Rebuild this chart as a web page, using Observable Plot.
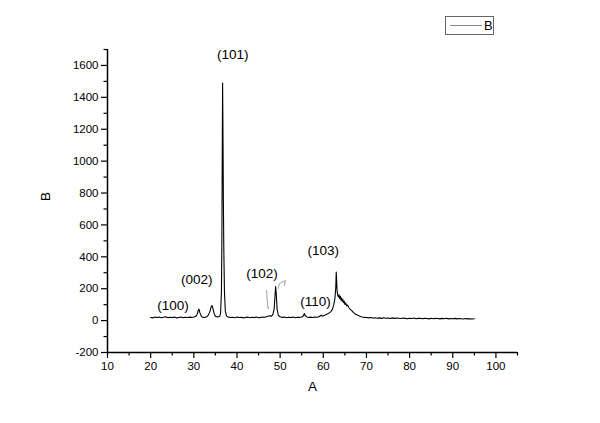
<!DOCTYPE html>
<html>
<head>
<meta charset="utf-8">
<script src="https://cdn.jsdelivr.net/npm/d3@7"></script>
<script src="https://cdn.jsdelivr.net/npm/@observablehq/plot@0.6"></script>
<style>
  html, body { margin: 0; padding: 0; background: #fff; }
  #wrap { position: relative; width: 600px; height: 423px; font-family: "Liberation Sans", Arial, sans-serif; }
  #legend { position: absolute; left: 445px; top: 16px; width: 47px; height: 17px; border: 1px solid #666; background: #fff; }
  #legend .ln { position: absolute; left: 4px; top: 8px; width: 32px; height: 0; border-top: 1px solid #888; }
  #legend .lb { position: absolute; left: 38px; top: 0px; font-size: 13px; line-height: 17px; color: #000; }
</style>
</head>
<body>
<div id="wrap"><div id="legend"><div class="ln"></div><div class="lb">B</div></div></div>
<script>
// 2θ values (A) and intensities (B)
const twoTheta = [
  20.0,20.5,21.0,21.5,22.0,22.5,23.0,23.5,24.0,24.5,25.0,25.5,26.0,26.5,27.0,27.5,28.0,28.5,29.0,29.5,
  30.0,30.5,30.8,31.0,31.2,31.4,31.7,32.0,32.5,33.0,33.4,33.8,34.0,34.2,34.4,34.7,35.0,35.5,36.0,36.2,
  36.4,36.5,36.6,36.67,36.75,36.85,36.95,37.1,37.3,37.6,38.0,38.5,39.0,39.5,40.0,40.5,41.0,41.5,42.0,42.5,
  43.0,43.5,44.0,44.5,45.0,45.5,46.0,46.5,47.0,47.5,48.0,48.3,48.6,48.8,48.95,49.1,49.3,49.6,50.0,50.5,
  51.0,51.5,52.0,52.5,53.0,53.5,54.0,54.5,55.0,55.4,55.6,55.8,56.2,56.7,57.0,57.5,58.0,58.5,59.0,59.5,
  59.8,60.2,60.7,61.2,61.7,62.1,62.4,62.7,62.9,63.0,63.1,63.2,63.35,63.5,63.65,63.8,63.95,64.1,64.25,64.4,
  64.55,64.7,64.85,65.0,65.2,65.4,65.6,65.9,66.2,66.6,67.0,67.5,68.0,68.5,69.0,69.5,70.0,70.5,71.0,71.5,
  72.0,72.5,73.0,73.5,74.0,74.5,75.0,75.5,76.0,76.5,77.0,77.5,78.0,78.5,79.0,79.5,80.0,80.5,81.0,81.5,
  82.0,82.5,83.0,83.5,84.0,84.5,85.0,85.5,86.0,86.5,87.0,87.5,88.0,88.5,89.0,89.5,90.0,90.5,91.0,91.5,
  92.0,92.5,93.0,93.5,94.0,94.5,95.0
];
const intensity = [
  20,17,23,19,22,18,21,24,18,21,19,22,17,20,23,18,21,19,22,20,
  23,28,40,62,72,50,30,22,19,24,36,62,85,95,80,45,28,22,27,45,
  180,500,1100,1490,1200,750,450,180,60,28,22,19,21,18,22,19,21,17,20,22,
  18,21,19,22,18,20,23,21,26,30,28,38,70,150,214,170,70,32,24,20,
  22,18,21,19,22,18,21,20,23,30,44,32,23,20,22,19,22,21,24,34,
  28,32,38,45,55,70,95,140,210,304,250,185,160,148,162,138,152,128,142,120,
  132,112,122,102,110,92,98,82,72,62,50,40,33,27,23,20,19,17,19,16,
  18,15,17,14,18,15,16,13,17,14,16,15,13,16,14,12,15,13,16,12,
  14,15,12,14,13,11,15,12,14,13,11,14,12,15,11,13,12,14,11,13,
  12,10,13,11,12,10,12
];

const xTicks = [10,20,30,40,50,60,70,80,90,100];
const xMinor = [15,25,35,45,55,65,75,85,95,105];
const yTicks = [-200,0,200,400,600,800,1000,1200,1400,1600];
const yMinor = [-100,100,300,500,700,900,1100,1300,1500,1700];

// Peak labels
const peakNames = ["(100)","(002)","(101)","(102)","(110)","(103)"];
const peakX = [25.2, 30.7, 39.0, 45.8, 58.2, 60.0];
const peakY = [96, 258, 1670, 297, 116, 440];

// hand-drawn marks near (102)
const markAx = [46.88, 47.0, 47.2, 47.35];
const markAy = [189, 130, 75, 82];
const markBx = [49.53, 49.83, 51.22, 50.99];
const markBy = [202, 231, 252, 221];

const data = twoTheta.map((x, i) => ({x, y: intensity[i]}));
const peaks = peakNames.map((t, i) => ({t, x: peakX[i], y: peakY[i]}));
const mA = markAx.map((x, i) => ({x, y: markAy[i]}));
const mB = markBx.map((x, i) => ({x, y: markBy[i]}));

const chart = Plot.plot({
  width: 600,
  height: 423,
  marginLeft: 107,
  marginRight: 83,
  marginTop: 49,
  marginBottom: 71,
  style: {fontFamily: "'Liberation Sans', Arial, sans-serif", fontSize: "11.5px", background: "transparent", color: "#000"},
  x: {domain: [10, 105], axis: null},
  y: {domain: [-200, 1700], axis: null},
  marks: [
    Plot.axisX({ticks: xTicks, tickSize: 6, tickPadding: 3, label: null, tickFormat: d => String(d), strokeWidth: 1.2}),
    Plot.axisX({ticks: xMinor, tickSize: 3.5, label: null, tickFormat: () => "", strokeWidth: 1.2}),
    Plot.axisY({ticks: yTicks, tickSize: 6, tickPadding: 3, label: null, tickFormat: d => String(d), strokeWidth: 1.2}),
    Plot.axisY({ticks: yMinor, tickSize: 3.5, label: null, tickFormat: () => "", strokeWidth: 1.2}),
    Plot.ruleY([-200], {stroke: "#000", strokeWidth: 1.5}),
    Plot.ruleX([10], {stroke: "#000", strokeWidth: 1.5}),
    Plot.line(data, {x: "x", y: "y", stroke: "#000", strokeWidth: 1.1}),
    Plot.line(mA, {x: "x", y: "y", stroke: "#888", strokeWidth: 0.8}),
    Plot.line(mB, {x: "x", y: "y", stroke: "#888", strokeWidth: 0.8}),
    Plot.text(peaks, {x: "x", y: "y", text: "t", fontSize: 13.5, fill: "#000"}),
    Plot.text(["A"], {frameAnchor: "bottom", dy: 38, fontSize: 13.5, fill: "#000"}),
    Plot.text(["B"], {frameAnchor: "left", dx: -62, rotate: -90, fontSize: 13.5, fill: "#000"})
  ]
});
document.getElementById("wrap").prepend(chart);
</script>
</body>
</html>
